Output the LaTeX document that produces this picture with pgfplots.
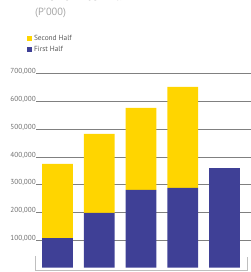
\documentclass[border=0pt]{standalone}
\usepackage{pgfplots}
\pgfplotsset{compat=1.18}
\usepackage{fontspec}
\setmainfont{PT Sans}
\definecolor{ylw}{RGB}{255,213,0}
\definecolor{blu}{RGB}{63,64,150}
\definecolor{lbl}{RGB}{110,110,110}
\begin{document}
\begin{tikzpicture}
\path[use as bounding box] (0,0) rectangle (251bp,272bp);
\begin{scope}
\clip (0,0) rectangle (251bp,272bp);
\node[anchor=base west, inner sep=0, text=black!75, font=\fontsize{15}{15}\selectfont] at (35bp,271.2bp) {Profit After Tax};
\end{scope}
\node[anchor=west, inner sep=0, text=black!35, font=\fontsize{10.5}{10.5}\selectfont] at (35bp,259.5bp) {(P’000)};
\begin{axis}[
  at={(36bp,4.3bp)}, anchor=south west,
  scale only axis, width=215bp, height=193.8bp,
  ybar stacked, bar width=0.742,
  xmin=-0.515, xmax=4.635, ymin=0, ymax=700000,
  axis line style={draw=none},
  xtick=\empty,
  ytick={100000,200000,300000,400000,500000,600000,700000},
  major tick length=0pt,
  ymajorgrids,
  grid style={draw=black!50, line width=0.9pt},
  scaled y ticks=false,
  /pgf/number format/assume math mode=true,
  yticklabel={\pgfmathprintnumber[fixed,1000 sep={,}]{\tick}},
  yticklabel style={font=\fontsize{7.3}{7.3}\selectfont, text=lbl, anchor=east, xshift=0.5bp, yshift=2bp, inner sep=0.5pt},
  legend style={at={(-0.045,1.21)}, anchor=north west, draw=none, fill=none, inner sep=0pt,
    font=\fontsize{7.4}{7.4}\selectfont, text=black!65, row sep=0.3bp,
    /tikz/every even column/.append style={column sep=1bp}},
  legend cell align=left,
  reverse legend,
  legend image code/.code={\fill[#1] (0bp,-2.7bp) rectangle (5.5bp,2.7bp);},
]
\addplot[fill=blu, draw=none] coordinates {(0,107000) (1,198000) (2,281000) (3,288000) (4,360000)};
\addplot[fill=ylw, draw=none] coordinates {(0,268000) (1,285000) (2,296000) (3,365000) (4,0)};
\legend{First Half, Second Half}
\end{axis}
\draw[black!25, line width=0.9pt] (35bp,16bp) -- (35bp,2bp) -- (247bp,2bp) -- (247bp,15bp);
\end{tikzpicture}
\end{document}
